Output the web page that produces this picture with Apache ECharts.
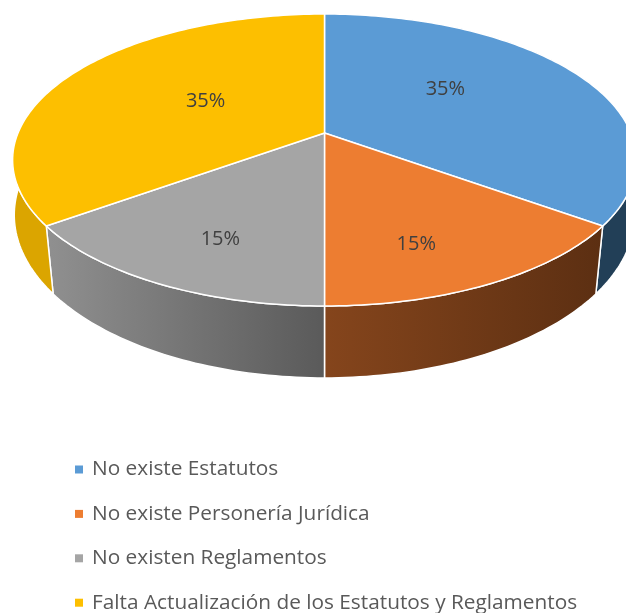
<!DOCTYPE html>
<html>
<head>
<meta charset="utf-8">
<style>
  html, body { margin: 0; padding: 0; background: #fff; }
  #chart { width: 626px; height: 613px; }
</style>
<script src="https://cdn.jsdelivr.net/npm/echarts@6/dist/echarts.min.js"></script>
</head>
<body>
<div id="chart"></div>
<script>
const categories = [
  'No existe Estatutos',
  'No existe Personería Jurídica',
  'No existen Reglamentos',
  'Falta Actualización de los Estatutos y Reglamentos'
]
const values = [35, 15, 15, 35]

// colours per slice
const topColors = ['#5B9BD5', '#ED7D31', '#A5A5A5', '#FDBF00']
const wallColors = [
  ['#223F57', '#223F57'],
  ['#85451C', '#5C2F12'],
  ['#909090', '#5A5A5A'],
  ['#DBA500', '#DBA500']
]
// label placement in disc terms: shift from mid angle (degrees), radius (0..1)
const labelShift = [-11.5, 6, -2.5, 3.5]
const labelRadius = [0.535, 0.73, 0.72, 0.47]

// 3D look: a tilted disc seen in perspective, lower rim is a second disc under it
const cx = 324.5
const topDisc = { r: 306.5, y0: 133, p: 116.4, tilt: -0.185 }
const rimDisc = { r: 307, y0: 191.5, p: 132, tilt: -0.144 }

const total = values.reduce((a, b) => a + b, 0)

function project(disc, angle, radius) {
  const u = Math.sin(angle) * radius
  const v = -Math.cos(angle) * radius
  const w = 1 + disc.tilt * v
  return [cx + disc.r * u / w, (disc.y0 + disc.p * v) / w]
}

function arcPoints(disc, from, to) {
  const steps = Math.max(2, Math.ceil(Math.abs(to - from) / 0.02))
  const pts = []
  for (let i = 0; i <= steps; i++) {
    pts.push(project(disc, from + (to - from) * i / steps, 1))
  }
  return pts
}

function sliceItem(index) {
  return function(params, api) {
    const before = values.slice(0, index).reduce((a, b) => a + b, 0)
    const start = before / total * Math.PI * 2
    const end = start + api.value(0) / total * Math.PI * 2
    const mid = (start + end) / 2 + labelShift[index] * Math.PI / 180
    const rimTop = arcPoints(topDisc, start, end)
    const rimLow = arcPoints(rimDisc, start, end)
    const labelAt = project(topDisc, mid, labelRadius[index])
    const xs = rimTop.map(p => p[0])
    return {
      type: 'group',
      children: [
        {
          type: 'polygon',
          z2: 1,
          shape: { points: rimTop.concat(rimLow.slice().reverse()) },
          style: {
            fill: new echarts.graphic.LinearGradient(
              Math.min(...xs), 0, Math.max(...xs), 0,
              [
                { offset: 0, color: wallColors[index][0] },
                { offset: 1, color: wallColors[index][1] }
              ],
              true
            ),
            stroke: '#fff',
            lineWidth: 1.5,
            lineJoin: 'round'
          }
        },
        {
          type: 'polygon',
          z2: 2,
          shape: { points: [project(topDisc, 0, 0)].concat(rimTop) },
          style: {
            fill: topColors[index],
            stroke: '#fff',
            lineWidth: 1.5,
            lineJoin: 'round'
          }
        },
        {
          type: 'text',
          z2: 3,
          x: labelAt[0],
          y: labelAt[1] + 1,
          style: {
            text: api.value(0) + '%',
            fill: '#404040',
            font: '20px "Open Sans"',
            align: 'center',
            verticalAlign: 'middle'
          }
        }
      ]
    }
  }
}

const chart = echarts.init(document.getElementById('chart'), null, { renderer: 'canvas' })

chart.setOption({
  animation: false,
  color: topColors,
  legend: {
    orient: 'vertical',
    left: 75,
    top: 459,
    height: 400,
    padding: 0,
    icon: 'rect',
    itemWidth: 8,
    itemHeight: 8,
    itemGap: 23.4,
    data: categories,
    selectedMode: false,
    textStyle: {
      color: '#595959',
      fontFamily: 'Open Sans',
      fontSize: 20.8,
      lineHeight: 20,
      padding: [0, 0, 0, 4]
    }
  },
  series: categories.map((name, i) => ({
    name,
    type: 'custom',
    coordinateSystem: 'none',
    silent: true,
    clip: false,
    itemStyle: { color: topColors[i] },
    data: [[values[i]]],
    renderItem: sliceItem(i)
  }))
})
</script>
</body>
</html>
